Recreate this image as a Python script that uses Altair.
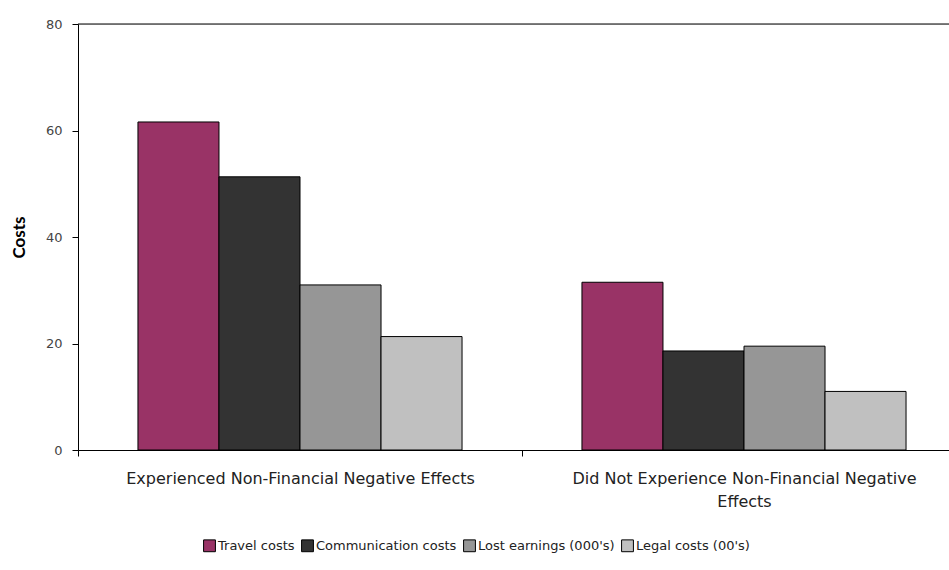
import altair as alt
import pandas as pd

# Groups along the category axis
groups = [
    "Experienced Non-Financial Negative Effects",
    "Did Not Experience Non-Financial Negative Effects",
]
# Cost series (legend order)
series = ["Travel costs", "Communication costs", "Lost earnings (000's)", "Legal costs (00's)"]
colors = ["#993366", "#333333", "#969696", "#C0C0C0"]

# Values per series, one per group
travel = [61.6, 31.5]
communication = [51.3, 18.6]
lost_earnings = [31.0, 19.5]
legal = [21.3, 11.0]

rows = []
for s, vals in zip(series, [travel, communication, lost_earnings, legal]):
    for g, v in zip(groups, vals):
        rows.append({"group": g, "series": s, "value": v})
df = pd.DataFrame(rows)

W, H = 871, 426
FONT = "DejaVu Sans"

label_expr = (
    "datum.label == 'Did Not Experience Non-Financial Negative Effects' ? "
    "['Did Not Experience Non-Financial Negative', 'Effects'] : datum.label"
)

bars = alt.Chart(df).mark_bar(stroke="black", strokeWidth=1).encode(
    x=alt.X(
        "group:N",
        sort=groups,
        scale=alt.Scale(range=[0, 888], paddingInner=0, paddingOuter=0),
        axis=alt.Axis(
            title=None,
            labelAngle=0,
            tickBand="extent",
            labelExpr=label_expr,
            labelLimit=600,
            labelFont=FONT,
            labelFontSize=16,
            labelColor="#222222",
            labelPadding=14,
            labelLineHeight=23,
            domainColor="black",
            tickColor="black",
            tickSize=6,
        ),
    ),
    xOffset=alt.XOffset(
        "series:N", sort=series, scale=alt.Scale(paddingInner=0, paddingOuter=0.74)
    ),
    y=alt.Y(
        "value:Q",
        scale=alt.Scale(domain=[0, 80]),
        axis=alt.Axis(
            values=[0, 20, 40, 60, 80],
            title="Costs",
            titleFont="Lato",
            titleFontSize=17,
            titleFontWeight="bold",
            titleColor="black",
            titlePadding=17,
            grid=False,
            labelFont=FONT,
            labelFontSize=13,
            labelColor="#444444",
            labelPadding=10,
            domainColor="black",
            tickColor="black",
            tickSize=6,
        ),
    ),
    color=alt.Color(
        "series:N",
        sort=series,
        scale=alt.Scale(domain=series, range=colors),
        legend=alt.Legend(
            title=None,
            orient="none",
            direction="horizontal",
            columns=4,
            legendX=125,
            legendY=515,
            symbolType="square",
            symbolSize=140,
            symbolStrokeColor="black",
            symbolStrokeWidth=1,
            symbolOpacity=1,
            labelFont=FONT,
            labelFontSize=13,
            labelColor="#222222",
            labelOffset=2,
            columnPadding=4,
        ),
    ),
)

# Top frame line of the plot area
top_line = alt.Chart(pd.DataFrame({"y": [80]})).mark_rule(
    color="black", strokeWidth=1
).encode(y="y:Q", x=alt.value(0), x2=alt.value(W))

chart = (
    alt.layer(bars, top_line)
    .properties(
        width=W,
        height=H,
        autosize=alt.AutoSizeParams(type="none"),
        padding={"left": 78, "top": 24, "right": 0, "bottom": 120},
    )
    .configure_view(stroke=None)
    .configure(background="white")
)

chart.save("out.html", embed_options={"renderer": "svg", "actions": False})
